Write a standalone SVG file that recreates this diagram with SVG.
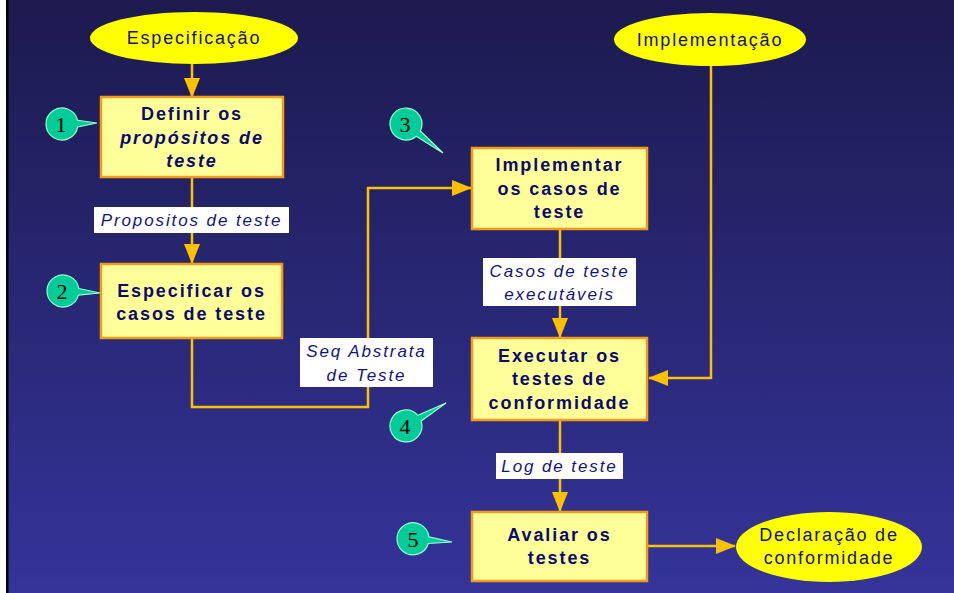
<svg xmlns="http://www.w3.org/2000/svg" width="954" height="593" viewBox="0 0 954 593">
<defs>
<linearGradient id="bg" x1="0" y1="0" x2="0" y2="1">
<stop offset="0" stop-color="#1c1a4e"/>
<stop offset="1" stop-color="#34349a"/>
</linearGradient>
<marker id="ahv" markerWidth="20" markerHeight="16" refX="19" refY="8" orient="auto" markerUnits="userSpaceOnUse">
<path d="M0,0 L20,8 L0,16 Z" fill="#ffc000"/>
</marker>
</defs>
<style>
.box{fill:#ffff99;stroke:#f39a1a;stroke-width:2.5}
.ell{fill:#ffff00}
.bt{font-family:"Liberation Sans",Arial,sans-serif;font-weight:bold;font-size:18px;fill:#0b0b6e;text-anchor:middle;letter-spacing:1.9px}
.bi{font-style:italic}
.et{font-family:"Liberation Sans",Arial,sans-serif;font-size:18px;fill:#13136e;text-anchor:middle;letter-spacing:1.8px}
.lb{fill:#ffffff}
.lt{font-family:"Liberation Sans",Arial,sans-serif;font-style:italic;font-size:17px;fill:#14147a;text-anchor:middle;letter-spacing:1.9px}
.con{fill:none;stroke:#ffc000;stroke-width:2.5}
.cal{fill:#00cc99;stroke:#99ffcc;stroke-width:1.2}
.ct{font-family:"Liberation Serif","Times New Roman",serif;font-size:22px;fill:#000000;text-anchor:middle}
</style>
<rect x="0" y="0" width="954" height="593" fill="url(#bg)"/>
<rect x="0" y="0" width="6" height="593" fill="#ffffff"/>
<rect x="6" y="0" width="2.5" height="593" fill="#000000"/>

<g id="connectors">
<path class="con" d="M192,64 L192,97" marker-end="url(#ahv)"/>
<path class="con" d="M192,177 L192,263" marker-end="url(#ahv)"/>
<path class="con" d="M192,338 L192,407 L368,407 L368,188 L471,188" marker-end="url(#ahv)"/>
<path class="con" d="M560,229 L560,337" marker-end="url(#ahv)"/>
<path class="con" d="M711,66 L711,378 L649,378" marker-end="url(#ahv)"/>
<path class="con" d="M560,420 L560,511" marker-end="url(#ahv)"/>
<path class="con" d="M647,546 L735,546" marker-end="url(#ahv)"/>
</g>

<g id="label-propositos">
<rect class="lb" x="94" y="207" width="195" height="26"/>
<text class="lt" x="191.5" y="226">Propositos de teste</text>
</g>
<g id="label-seq">
<rect class="lb" x="300" y="338" width="133" height="49"/>
<text class="lt" x="366.5" y="357">Seq Abstrata</text>
<text class="lt" x="366.5" y="381">de Teste</text>
</g>
<g id="label-casos">
<rect class="lb" x="483" y="258" width="153" height="48"/>
<text class="lt" x="559.5" y="277">Casos de teste</text>
<text class="lt" x="559.5" y="300">executáveis</text>
</g>
<g id="label-log">
<rect class="lb" x="496" y="453" width="127" height="26"/>
<text class="lt" x="559.5" y="472">Log de teste</text>
</g>

<g id="especificacao">
<ellipse class="ell" cx="194" cy="38" rx="104" ry="26"/>
<text class="et" x="194" y="44">Especificação</text>
</g>
<g id="implementacao">
<ellipse class="ell" cx="710" cy="39.5" rx="96" ry="26.5"/>
<text class="et" x="710" y="46">Implementação</text>
</g>
<g id="declaracao">
<ellipse class="ell" cx="829" cy="547" rx="93" ry="35"/>
<text class="et" x="829" y="541">Declaração de</text>
<text class="et" x="829" y="564">conformidade</text>
</g>

<g id="box1">
<rect class="box" x="101" y="97" width="182" height="80"/>
<text class="bt" x="192" y="120">Definir os</text>
<text class="bt bi" x="192" y="144">propósitos de</text>
<text class="bt bi" x="192" y="167">teste</text>
</g>
<g id="box2">
<rect class="box" x="101" y="264" width="181" height="74"/>
<text class="bt" x="191.5" y="297">Especificar os</text>
<text class="bt" x="191.5" y="320">casos de teste</text>
</g>
<g id="box3">
<rect class="box" x="472" y="148" width="175" height="81"/>
<text class="bt" x="559.5" y="171">Implementar</text>
<text class="bt" x="559.5" y="195">os casos de</text>
<text class="bt" x="559.5" y="218">teste</text>
</g>
<g id="box4">
<rect class="box" x="472" y="338" width="175" height="82"/>
<text class="bt" x="559.5" y="362">Executar os</text>
<text class="bt" x="559.5" y="385">testes de</text>
<text class="bt" x="559.5" y="409">conformidade</text>
</g>
<g id="box5">
<rect class="box" x="472" y="512" width="175" height="69"/>
<text class="bt" x="559.5" y="541">Avaliar os</text>
<text class="bt" x="559.5" y="564">testes</text>
</g>

<g id="callout1">
<path class="cal" d="M77.55,120.24 L97,123 L77.74,126.89 A16,16 0 1 1 77.55,120.24 Z"/>
<text class="ct" x="61" y="132">1</text>
</g>
<g id="callout2">
<path class="cal" d="M78.81,288.52 L100,293 L78.45,295.17 A16,16 0 1 1 78.81,288.52 Z"/>
<text class="ct" x="62" y="299">2</text>
</g>
<g id="callout3">
<path class="cal" d="M420.37,131.04 L443,153 L416.26,136.28 A16,16 0 1 1 420.37,131.04 Z"/>
<text class="ct" x="405" y="132">3</text>
</g>
<g id="callout4">
<path class="cal" d="M417.9,415.3 L446,403 L421.2,421.1 A16,16 0 1 1 417.9,415.3 Z"/>
<text class="ct" x="405" y="434">4</text>
</g>
<g id="callout5">
<path class="cal" d="M428.9,536.9 L452,542 L428.3,543.5 A16,16 0 1 1 428.9,536.9 Z"/>
<text class="ct" x="413" y="547">5</text>
</g>
</svg>
